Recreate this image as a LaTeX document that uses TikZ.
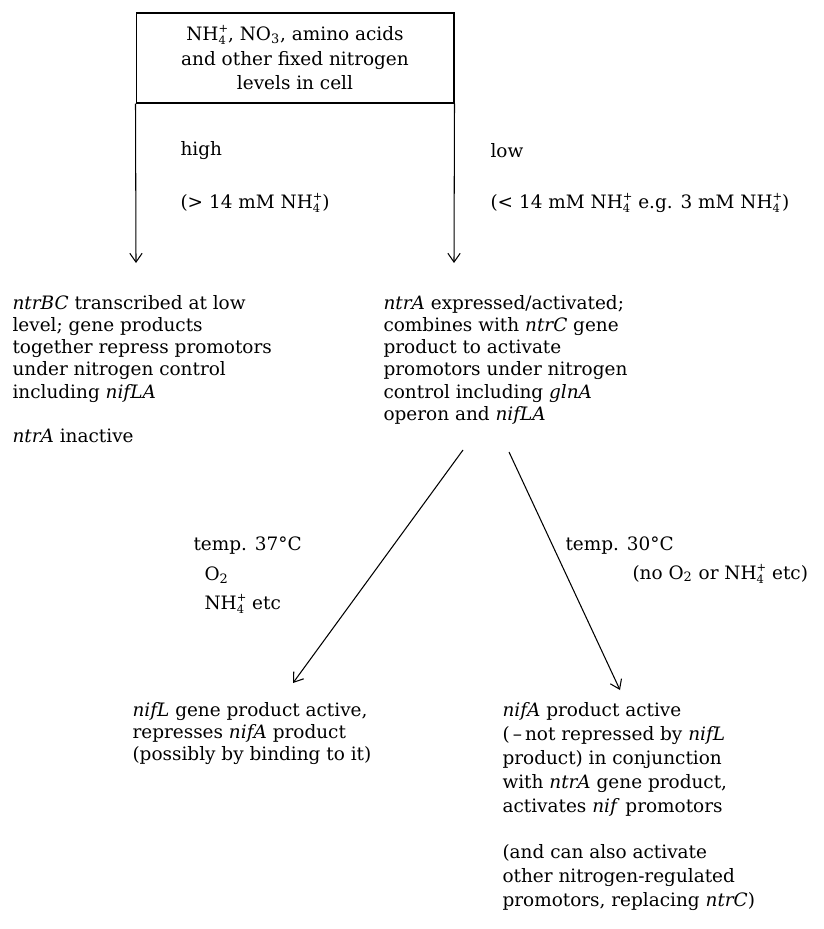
\documentclass[tikz,border=0pt]{standalone}
\usepackage{fontspec}
\setmainfont{DejaVu Serif}
\usetikzlibrary{arrows.meta, positioning}

\newcommand{\ammon}{\mbox{NH\raisebox{-0.45ex}{\rlap{\fontsize{6.5}{6.5}\selectfont 4}}%
    \raisebox{0.75ex}{\fontsize{6.5}{6.5}\selectfont+}}}

\tikzset{
    txt/.style={inner sep=0pt, align=left, anchor=north west,
        font=\fontsize{10.5}{12.6}\selectfont},
    cond/.style={inner sep=0pt, anchor=west, font=\fontsize{10.5}{12.6}\selectfont}
}

\begin{document}
\begin{tikzpicture}[x=0.02cm, y=-0.02cm, line width=0.6pt,
    >={Straight Barb[length=5pt,width=7pt]}]
    \useasboundingbox (0,0) rectangle (824,929);

    % nitrogen level box
    \node[draw, minimum width=6.36cm, minimum height=1.80cm, align=center,
        font=\fontsize{10.5}{14.2}\selectfont] (level) at (295,58)
        {\ammon, NO\textsubscript{3}, amino acids\\
         and other fixed nitrogen\\
         levels in cell};

    \coordinate (hiend) at (136,263);
    \coordinate (loend) at (454,263);
    \draw[->] (level.south west) -- (hiend);
    \draw[->] (level.south east) -- (loend);

    \node[cond] (high) at (180,151) {high};
    \node[cond] (highval) at (180,203) {(> 14 mM \ammon)};
    \node[cond] (low) at (490,151) {low};
    \node[cond] (lowval) at (490,203) {(< 14 mM \ammon{} e.g. 3 mM \ammon)};

    % results of high / low levels
    \node[txt] (repress) at (12,295)
        {\textit{ntrBC} transcribed at low\\
         level; gene products\\
         together repress promotors\\
         under nitrogen control\\
         including \textit{nifLA}\\[12.6pt]
         \textit{ntrA} inactive};
    \node[txt] (activate) at (383,295)
        {\textit{ntrA} expressed/activated;\\
         combines with \textit{ntrC} gene\\
         product to activate\\
         promotors under nitrogen\\
         control including \textit{glnA}\\
         operon and \textit{nifLA}};

    \coordinate (forkl) at (463,450);
    \coordinate (forkr) at (509,452);
    \coordinate (warmend) at (293,683);
    \coordinate (coolend) at (620,690);
    \draw[->] (forkl) -- (warmend);
    \draw[->] (forkr) -- (coolend);

    \node[cond] (warm) at (193,546) {temp. 37°C};
    \node[cond] (warmox) at (204,575) {O\textsubscript{2}};
    \node[cond] (warmnh) at (204,604) {\ammon{} etc};
    \node[cond] (cool) at (565,546) {temp. 30°C};
    \node[cond] (coolno) at (632,574) {(no O\textsubscript{2} or \ammon{} etc)};

    % nif regulation outcomes
    \node[txt] (nifl) at (132,702)
        {\textit{nifL} gene product active,\\
         represses \textit{nifA} product\\
         (possibly by binding to it)};
    \node[txt, font=\fontsize{10.5}{13.6}\selectfont] (nifa) at (502,702)
        {\textit{nifA} product active\\
         (\,--\,not repressed by \textit{nifL}\\
         product) in conjunction\\
         with \textit{ntrA} gene product,\\
         activates \textit{nif} promotors\\[13pt]
         (and can also activate\\
         other nitrogen-regulated\\
         promotors, replacing \textit{ntrC})};
\end{tikzpicture}
\end{document}
